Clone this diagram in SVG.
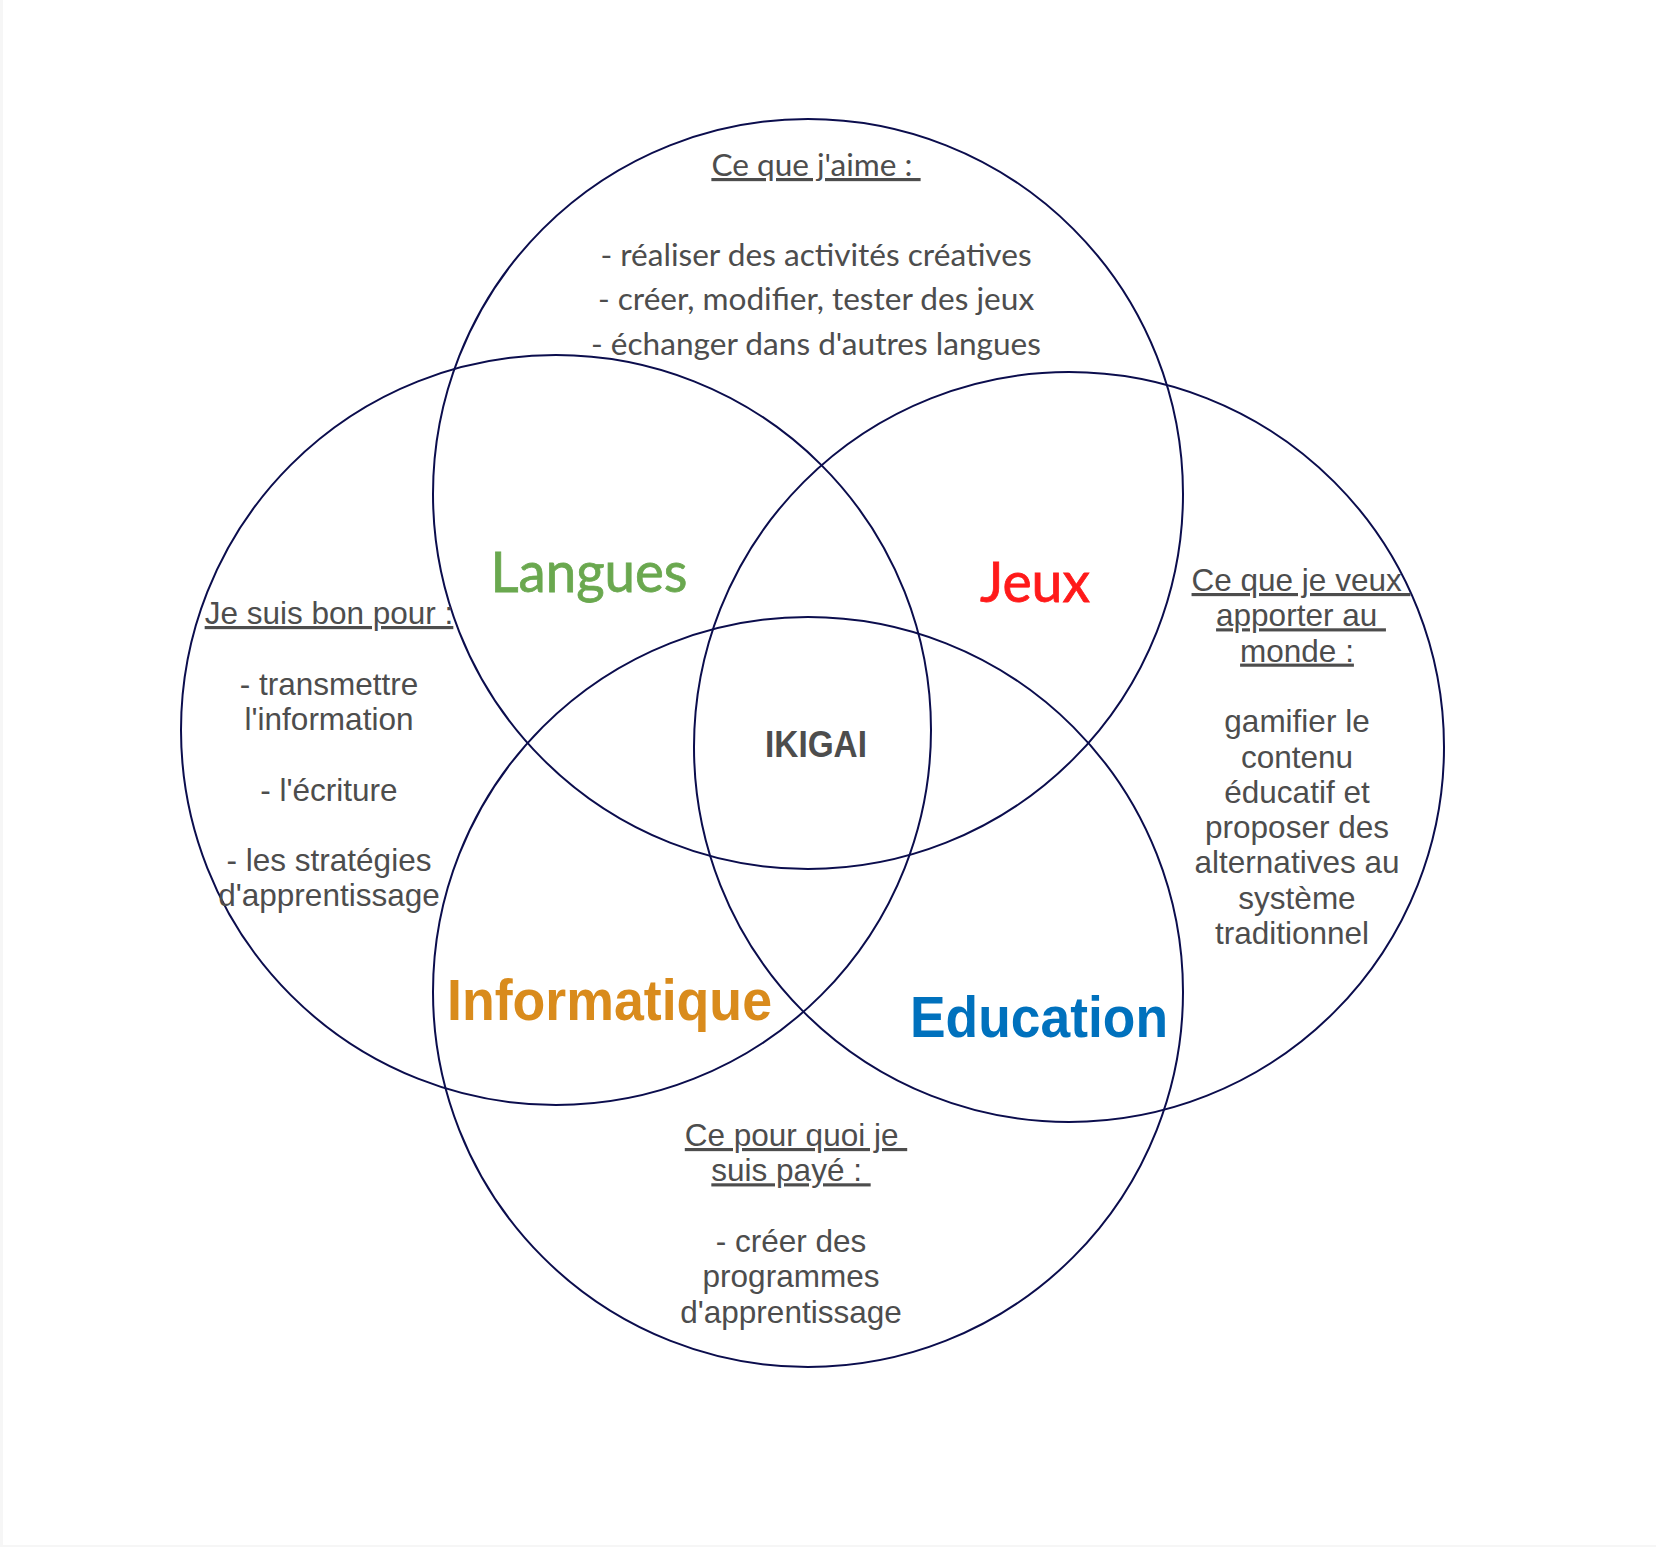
<svg xmlns="http://www.w3.org/2000/svg" width="1656" height="1547" viewBox="0 0 1656 1547">
<style>
.ring{fill:none;stroke:#0b0d4d;stroke-width:2}
.lato{font-family:Lato,"Noto Sans",sans-serif;font-size:31.6px;fill:#4d4d4d;text-anchor:middle}
.arial{font-family:"Liberation Sans",Arial,sans-serif;font-size:31.5px;fill:#4d4d4d;text-anchor:middle}
.u{text-decoration:underline}
.big{font-family:"Liberation Sans",Arial,sans-serif;font-weight:bold;text-anchor:middle}
.bigl{font-family:Lato,"Noto Sans",sans-serif;font-size:56px;text-anchor:middle}
</style>
<rect x="0" y="0" width="1656" height="1547" fill="#f6f6f6"/>
<rect x="3" y="0" width="1653" height="1545" fill="#ffffff"/>
<g id="connectors"/>
<g id="circle-love">
<circle class="ring" cx="808" cy="494" r="375"/>
<text class="lato" x="816" y="176"><tspan class="u">Ce que j'aime :&#160;</tspan></text>
<text class="lato" x="816" y="266">- réaliser des activités créatives</text>
<text class="lato" x="816" y="310">- créer, modifier, tester des jeux</text>
<text class="lato" x="816" y="355">- échanger dans d'autres langues</text>
</g>
<g id="circle-good">
<circle class="ring" cx="556" cy="730" r="375"/>
<text class="arial" x="329" y="624"><tspan class="u">Je suis bon pour :</tspan></text>
<text class="arial" x="329" y="694.6">- transmettre</text>
<text class="arial" x="329" y="729.9">l'information</text>
<text class="arial" x="329" y="800.5">- l'écriture</text>
<text class="arial" x="329" y="871.1">- les stratégies</text>
<text class="arial" x="329" y="906.4">d'apprentissage</text>
</g>
<g id="circle-world">
<circle class="ring" cx="1069" cy="747" r="375"/>
<text class="arial" x="1301" y="591"><tspan class="u">Ce que je veux&#160;</tspan></text>
<text class="arial" x="1301" y="626.3"><tspan class="u">apporter au&#160;</tspan></text>
<text class="arial" x="1297" y="661.6"><tspan class="u">monde :</tspan></text>
<text class="arial" x="1297" y="732.2">gamifier le</text>
<text class="arial" x="1297" y="767.5">contenu</text>
<text class="arial" x="1297" y="802.8">éducatif et</text>
<text class="arial" x="1297" y="838.1">proposer des</text>
<text class="arial" x="1297" y="873.4">alternatives au</text>
<text class="arial" x="1297" y="908.7">système</text>
<text class="arial" x="1292" y="944">traditionnel</text>
</g>
<g id="circle-paid">
<circle class="ring" cx="808" cy="992" r="375"/>
<text class="arial" x="796" y="1146"><tspan class="u">Ce pour quoi je&#160;</tspan></text>
<text class="arial" x="791" y="1181.3"><tspan class="u">suis payé :&#160;</tspan></text>
<text class="arial" x="791" y="1251.9">- créer des</text>
<text class="arial" x="791" y="1287.2">programmes</text>
<text class="arial" x="791" y="1322.5">d'apprentissage</text>
</g>
<g id="label-langues">
<text class="bigl" x="589" y="592" fill="#6aa84f" stroke="#6aa84f" stroke-width="0.8" textLength="197" lengthAdjust="spacingAndGlyphs">Langues</text>
</g>
<g id="label-jeux">
<text class="bigl" x="1035" y="602" fill="#ff1a1a" stroke="#ff1a1a" stroke-width="0.8" textLength="110" lengthAdjust="spacingAndGlyphs">Jeux</text>
</g>
<g id="label-informatique">
<text class="big" x="609.5" y="1020" font-size="58" fill="#d98b1c" textLength="325" lengthAdjust="spacingAndGlyphs">Informatique</text>
</g>
<g id="label-education">
<text class="big" x="1039" y="1037" font-size="58" fill="#0071bd" textLength="258" lengthAdjust="spacingAndGlyphs">Education</text>
</g>
<g id="label-ikigai">
<text class="big" x="816" y="757" font-size="36" fill="#4d4d4d" textLength="102" lengthAdjust="spacingAndGlyphs">IKIGAI</text>
</g>
</svg>
